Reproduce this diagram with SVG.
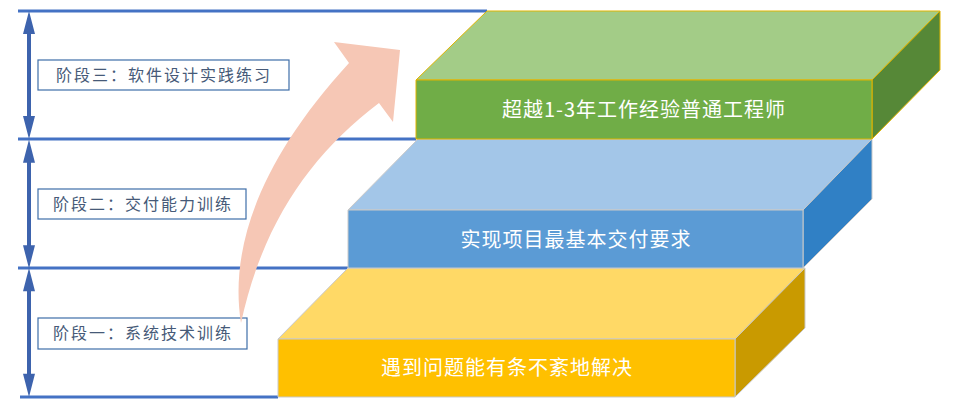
<svg xmlns="http://www.w3.org/2000/svg" width="960" height="413" viewBox="0 0 960 413">
  <style>
    .guide { stroke: #4472C4; stroke-width: 3; fill: none; }
    .varrow { fill: #3D63AD; }
    .lbox { fill: #FFFFFF; stroke: #3E6EA8; stroke-width: 1.2; }
    .ltxt { font-family: "Noto Sans CJK SC", "Liberation Sans", sans-serif; font-size: 16px; fill: #465A78; letter-spacing: 2px; text-anchor: middle; }
    .btxt { font-family: "Noto Sans CJK SC", "Liberation Sans", sans-serif; font-size: 20px; fill: #FFFFFF; letter-spacing: 1px; text-anchor: middle; }
    .gb { stroke: #E2B400; stroke-width: 1; stroke-linejoin: round; }
    .ob { stroke: #C9C9C9; stroke-width: 1; stroke-linejoin: round; }
  </style>
  <defs>
    <path id="dbl" d="M0,0 L6,23 L2,23 L2,105 L6,105 L0,128 L-6,105 L-2,105 L-2,23 L-6,23 Z"/>
  </defs>
  <rect width="960" height="413" fill="#FFFFFF"/>

  <g id="guides">
    <line class="guide" x1="18" y1="11" x2="487" y2="11"/>
    <line class="guide" x1="18" y1="139" x2="416" y2="139"/>
    <line class="guide" x1="18" y1="268" x2="348" y2="268"/>
    <line class="guide" x1="20" y1="397" x2="278" y2="397"/>
  </g>

  <g id="block-yellow">
    <polygon class="ob" points="278,339 348,268 805,268 735,339" fill="#FFD966"/>
    <polygon class="ob" points="735,339 805,268 805,328 735,397" fill="#C99A00"/>
    <rect class="ob" x="278" y="339" width="457" height="58" fill="#FFC000"/>
    <text class="btxt" x="507" y="375">遇到问题能有条不紊地解决</text>
  </g>

  <g id="block-blue">
    <polygon class="ob" points="348,210 418,139 872,139 803,210" fill="#A3C6E8"/>
    <polygon class="ob" points="803,210 872,139 872,199 803,268" fill="#3080C5"/>
    <rect class="ob" x="348" y="210" width="455" height="58" fill="#5B9BD5"/>
    <text class="btxt" x="576" y="247">实现项目最基本交付要求</text>
  </g>

  <g id="block-green">
    <polygon class="gb" points="416,80 487,11 940,11 872,80" fill="#A3CC87"/>
    <polygon class="gb" points="872,80 940,11 940,70 872,139" fill="#568837"/>
    <rect class="gb" x="416" y="80" width="456" height="59" fill="#70AD47"/>
    <text class="btxt" x="644" y="117">超越1-3年工作经验普通工程师</text>
  </g>

  <g id="stage-3">
    <rect class="lbox" x="38" y="60" width="251" height="30"/>
    <text class="ltxt" x="164" y="81">阶段三：软件设计实践练习</text>
  </g>
  <g id="stage-2">
    <rect class="lbox" x="38" y="189" width="208" height="30"/>
    <text class="ltxt" x="143" y="210">阶段二：交付能力训练</text>
  </g>
  <g id="stage-1">
    <rect class="lbox" x="38" y="318" width="209" height="31"/>
    <text class="ltxt" x="143" y="339">阶段一：系统技术训练</text>
  </g>

  <g id="connectors">
    <use href="#dbl" class="varrow" transform="translate(29,11)"/>
    <use href="#dbl" class="varrow" transform="translate(29,139.5) scale(1,1.0078)"/>
    <use href="#dbl" class="varrow" transform="translate(29,268) scale(1,1.0078)"/>
    <path d="M241,323 C229,248 260,160 349,63 L334,42 L400,50 L393,122 L379,103 C310,155 262,225 241,323 Z" fill="#F6C7B5"/>
  </g>
</svg>
